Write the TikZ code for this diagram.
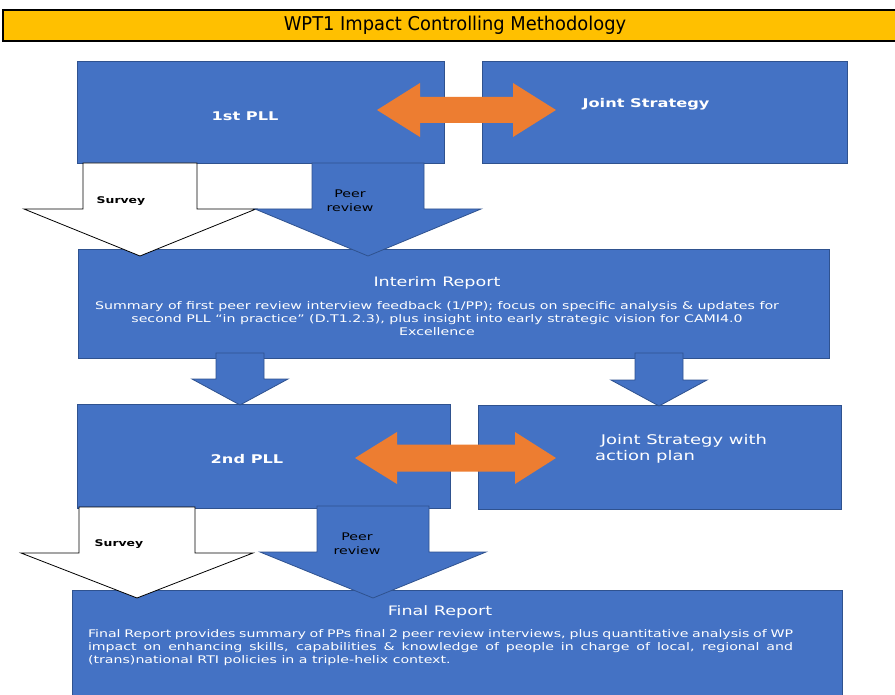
\documentclass[tikz,border=0pt]{standalone}
\usepackage{fontspec}
\setmainfont{DejaVu Sans}[FakeStretch=1.35]
\newfontfamily\titlefont{DejaVu Sans}[FakeStretch=0.94]
\usetikzlibrary{positioning}
\definecolor{boxblue}{HTML}{4472C4}
\definecolor{boxline}{HTML}{2F528F}
\definecolor{linkorange}{HTML}{ED7D31}
\definecolor{titlegold}{HTML}{FFC000}
\begin{document}
\begin{tikzpicture}
	[x=1pt,y=-1pt,
	bluebox/.style={rectangle,draw=boxline,line width=0.8pt,fill=boxblue,inner sep=0},
	titlebox/.style={rectangle,draw=black,line width=1.2pt,fill=titlegold,inner sep=0,font=\titlefont\fontsize{19}{22}\selectfont},
	boxlabel/.style={text=white,inner sep=0,font=\bfseries\fontsize{12}{15}\selectfont},
	headtext/.style={text=white,inner sep=0,font=\fontsize{13}{16}\selectfont},
	bodytext/.style={text=white,inner sep=0,font=\fontsize{10.5}{13}\selectfont},
	arrowtext/.style={text=black,inner sep=0,align=center,font=\fontsize{10.5}{14}\selectfont},
	surveytext/.style={text=black,inner sep=0,font=\bfseries\fontsize{9.2}{11}\selectfont},
	whitearrow/.style={draw=black,line width=0.8pt,fill=white},
	bluearrow/.style={draw=boxline,line width=0.8pt,fill=boxblue},
	linkarrow/.style={fill=linkorange}]
	\useasboundingbox (0,0) rectangle (895,695);
	\clip (0,0) rectangle (895,695);
	\fill[white] (0,0) rectangle (895,695);
	\node[titlebox,minimum width=904,minimum height=31] (title) at (455,25.5) {WPT1 Impact Controlling Methodology};
	\node[bluebox,minimum width=367,minimum height=102] (pll1) at (260.5,112) {};
	\node[bluebox,minimum width=365,minimum height=102] (strategy1) at (664.5,112) {};
	\node[bluebox,minimum width=751,minimum height=109] (interim) at (453.5,303.5) {};
	\node[bluebox,minimum width=373,minimum height=104] (pll2) at (263.5,456) {};
	\node[bluebox,minimum width=363,minimum height=104] (strategy2) at (659.5,457) {};
	\node[bluebox,minimum width=770,minimum height=120] (final) at (457,650) {};
	\foreach \cx/\sh/\hh/\yt/\yn/\yp in {140/57/116/163/209/256, 137/58/116/507/553/598}
	{
		\draw[whitearrow] ({\cx-\sh},\yt) -- ({\cx+\sh},\yt) -- ({\cx+\sh},\yn) -- ({\cx+\hh},\yn) -- (\cx,\yp) -- ({\cx-\hh},\yn) -- ({\cx-\sh},\yn) -- cycle;
	}
	\foreach \cx/\sh/\hh/\yt/\yn/\yp in {368/56/113/163/209/256, 373/56/113/506/552/598, 240/24/48/353/379/405, 659/24/48/353/380/406}
	{
		\draw[bluearrow] ({\cx-\sh},\yt) -- ({\cx+\sh},\yt) -- ({\cx+\sh},\yn) -- ({\cx+\hh},\yn) -- (\cx,\yp) -- ({\cx-\hh},\yn) -- ({\cx-\sh},\yn) -- cycle;
	}
	\foreach \xl/\xa/\xb/\xr/\yc/\hh/\sh in {377/420/513/556/110/27/13, 355/397/515/556/458/26/13.5}
	{
		\fill[linkarrow] (\xl,\yc) -- (\xa,{\yc-\hh}) -- (\xa,{\yc-\sh}) -- (\xb,{\yc-\sh}) -- (\xb,{\yc-\hh}) -- (\xr,\yc) -- (\xb,{\yc+\hh}) -- (\xb,{\yc+\sh}) -- (\xa,{\yc+\sh}) -- (\xa,{\yc+\hh}) -- cycle;
	}
	\node[boxlabel] (pll1 text) at (245,116) {1st PLL};
	\node[boxlabel] (strategy1 text) at (646,104) {Joint Strategy};
	\node[boxlabel] (pll2 text) at (247,459) {2nd PLL};
	\node[headtext,align=left,anchor=west,font=\fontsize{13.3}{16}\selectfont] (strategy2 text) at (595,449) {\ Joint Strategy with\\action plan};
	\node[headtext] (interim head) at (437,283) {Interim Report};
	\node[bodytext,align=center] (interim body) at (437,319) {Summary of first peer review interview feedback (1/PP); focus on specific analysis \& updates for\\second PLL “in practice” (D.T1.2.3), plus insight into early strategic vision for CAMI4.0\\Excellence};
	\node[headtext] (final head) at (440,612) {Final Report};
	\node[bodytext,text width=705,align=justify] (final body) at (440.5,648) {Final Report provides summary of PPs final 2 peer review interviews, plus quantitative analysis of WP\linebreak impact on enhancing skills, capabilities \& knowledge of people in charge of local, regional and\linebreak (trans)national RTI policies in a triple-helix context.};
	\node[surveytext] (survey1) at (121,201) {Survey};
	\node[surveytext] (survey2) at (119,544) {Survey};
	\node[arrowtext] (peer1) at (350,201) {Peer\\review};
	\node[arrowtext] (peer2) at (357,544) {Peer\\review};
\end{tikzpicture}
\end{document}
